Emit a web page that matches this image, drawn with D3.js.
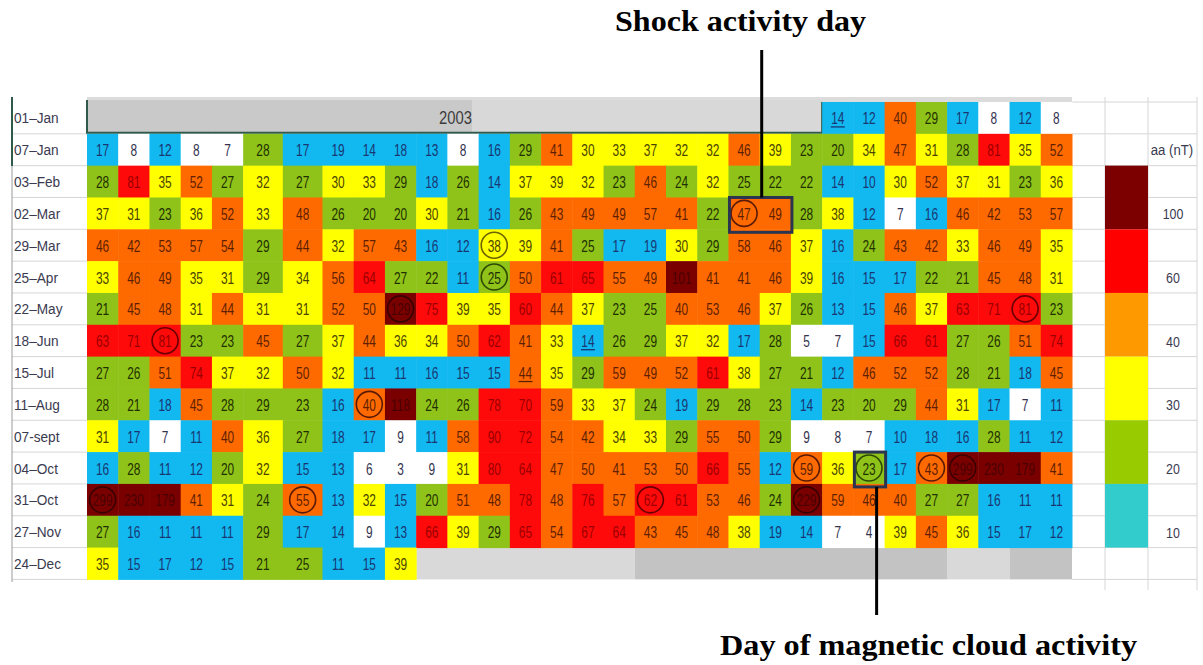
<!DOCTYPE html>
<html>
<head>
<meta charset="utf-8">
<script src="https://cdn.jsdelivr.net/npm/d3@7"></script>
<style>
  html, body { margin: 0; padding: 0; background: #fff; }
  svg { display: block; }
  .num { font-family: "Liberation Sans", Arial, sans-serif; font-size: 17px; }
  .lab { font-family: "Liberation Sans", Arial, sans-serif; font-size: 15.5px; fill: #3a3a50; }
  .note { font-family: "Liberation Serif", "Times New Roman", serif; font-weight: bold; font-size: 30px; fill: #000; }
</style>
</head>
<body>
<svg id="chart" width="1203" height="665"></svg>
<script>
// Daily aa index (nT), 2003, one Bartels-style rotation per row (27 days + 4 repeated days)
const rowLabels = ["01–Jan", "07–Jan", "03–Feb", "02–Mar", "29–Mar", "25–Apr", "22–May", "18–Jun",
                   "15–Jul", "11–Aug", "07-sept", "04–Oct", "31–Oct", "27–Nov", "24–Dec"];

// first column occupied by each rotation
const rowStartColumn = [24, 1, 1, 1, 1, 1, 1, 1, 1, 1, 1, 1, 1, 1, 1];

const rotJan01 = [14, 12, 40, 29, 17, 8, 12, 8];
const rotJan07 = [17, 8, 12, 8, 7, 28, 17, 19, 14, 18, 13, 8, 16, 29, 41, 30, 33, 37, 32, 32, 46, 39, 23, 20, 34, 47, 31, 28, 81, 35, 52];
const rotFeb03 = [28, 81, 35, 52, 27, 32, 27, 30, 33, 29, 18, 26, 14, 37, 39, 32, 23, 46, 24, 32, 25, 22, 22, 14, 10, 30, 52, 37, 31, 23, 36];
const rotMar02 = [37, 31, 23, 36, 52, 33, 48, 26, 20, 20, 30, 21, 16, 26, 43, 49, 49, 57, 41, 22, 47, 49, 28, 38, 12, 7, 16, 46, 42, 53, 57];
const rotMar29 = [46, 42, 53, 57, 54, 29, 44, 32, 57, 43, 16, 12, 38, 39, 41, 25, 17, 19, 30, 29, 58, 46, 37, 16, 24, 43, 42, 33, 46, 49, 35];
const rotApr25 = [33, 46, 49, 35, 31, 29, 34, 56, 64, 27, 22, 11, 25, 50, 61, 65, 55, 49, 101, 41, 41, 46, 39, 16, 15, 17, 22, 21, 45, 48, 31];
const rotMay22 = [21, 45, 48, 31, 44, 31, 31, 52, 50, 129, 75, 39, 35, 60, 44, 37, 23, 25, 40, 53, 46, 37, 26, 13, 15, 46, 37, 63, 71, 81, 23];
const rotJun18 = [63, 71, 81, 23, 23, 45, 27, 37, 44, 36, 34, 50, 62, 41, 33, 14, 26, 29, 37, 32, 17, 28, 5, 7, 15, 66, 61, 27, 26, 51, 74];
const rotJul15 = [27, 26, 51, 74, 37, 32, 50, 32, 11, 11, 16, 15, 15, 44, 35, 29, 59, 49, 52, 61, 38, 27, 21, 12, 46, 52, 52, 28, 21, 18, 45];
const rotAug11 = [28, 21, 18, 45, 28, 29, 23, 16, 40, 118, 24, 26, 78, 70, 59, 33, 37, 24, 19, 29, 28, 23, 14, 23, 20, 29, 44, 31, 17, 7, 11];
const rotSep07 = [31, 17, 7, 11, 40, 36, 27, 18, 17, 9, 11, 58, 90, 72, 54, 42, 34, 33, 29, 55, 50, 29, 9, 8, 7, 10, 18, 16, 28, 11, 12];
const rotOct04 = [16, 28, 11, 12, 20, 32, 15, 13, 6, 3, 9, 31, 80, 64, 47, 50, 41, 53, 50, 66, 55, 12, 59, 36, 23, 17, 43, 299, 230, 179, 41];
const rotOct31 = [299, 230, 179, 41, 31, 24, 55, 13, 32, 15, 20, 51, 48, 78, 48, 76, 57, 62, 61, 53, 46, 24, 229, 59, 46, 40, 27, 27, 16, 11, 11];
const rotNov27 = [27, 16, 11, 11, 11, 29, 17, 14, 9, 13, 66, 39, 29, 65, 54, 67, 64, 43, 45, 48, 38, 19, 14, 7, 4, 39, 45, 36, 15, 17, 12];
const rotDec24 = [35, 15, 17, 12, 15, 21, 25, 11, 15, 39];

const rotations = [rotJan01, rotJan07, rotFeb03, rotMar02, rotMar29, rotApr25, rotMay22, rotJun18,
                   rotJul15, rotAug11, rotSep07, rotOct04, rotOct31, rotNov27, rotDec24];

// colour classes (nT)
const aaThresholds = [10, 20, 30, 40, 60, 100];
const legendLabels = ["100", "60", "40", "30", "20", "10"];

// marked days: [row, column]
const circledDays = [["02–Mar", 21], ["29–Mar", 13], ["25–Apr", 13], ["22–May", 10], ["22–May", 30],
                     ["18–Jun", 3], ["11–Aug", 9], ["04–Oct", 23], ["04–Oct", 25], ["04–Oct", 27],
                     ["04–Oct", 28], ["31–Oct", 1], ["31–Oct", 7], ["31–Oct", 18], ["31–Oct", 23]];
const underlinedDays = [["01–Jan", 24], ["18–Jun", 16], ["15–Jul", 14]];
const shockDays = { row: "02–Mar", from: 21, to: 22, label: "Shock activity day" };
const cloudDays = { row: "04–Oct", from: 25, to: 25, label: "Day of magnetic cloud activity" };
const yearLabel = "2003";

// ---------- layout ----------
const svg = d3.select("#chart");
const nCols = 31;
const colWeights = d3.range(nCols).map(i => (i === 5 || i === 6) ? 1.27 : 1);
const cumW = [0, ...d3.cumsum(colWeights)];
const x = d3.scaleLinear().domain([0, d3.sum(colWeights)]).range([87, 1072]);
const colL = c => x(cumW[c - 1]);
const colR = c => x(cumW[c]);
const colC = c => (colL(c) + colR(c)) / 2;
const y = d3.scaleBand().domain(rowLabels).range([102, 579.4]);
const bh = y.bandwidth();

const cellFill = d3.scaleThreshold().domain(aaThresholds)
  .range(["#ffffff", "#12b8f0", "#8fc31a", "#ffff00", "#ff6a00", "#ff0a0a", "#7a0000"]);
const textFill = d3.scaleThreshold().domain(aaThresholds)
  .range(["#33334f", "#1a3670", "#1f3000", "#4a4400", "#5e1f00", "#9a0000", "#4a0000"]);
const ringFill = d3.scaleThreshold().domain(aaThresholds)
  .range(["#333", "#1d3f7a", "#2e4a00", "#6b6400", "#5a1a05", "#6a0000", "#3a0000"]);
const legendFill = ["#7d0000", "#ff0000", "#ff9900", "#ffff00", "#99cc00", "#33cccc"];

// condensed spreadsheet-style text: horizontal squeeze around the anchor point
function narrowText(sel, sx) {
  return sel.attr("transform", function () {
    const t = d3.select(this);
    return `translate(${t.attr("data-x")},${t.attr("data-y")}) scale(${sx},1)`;
  });
}

// flatten into cells
const cells = [];
rotations.forEach((vals, r) => {
  vals.forEach((v, i) => cells.push({ row: rowLabels[r], col: rowStartColumn[r] + i, v }));
});
const cellOf = (row, col) => cells.find(d => d.row === row && d.col === col);

// ---------- spreadsheet grid (right side and label column) ----------
const gridColor = "#d6d6d6";
const gridG = svg.append("g");
rowLabels.forEach(r => {
  gridG.append("line").attr("x1", 12).attr("x2", 87).attr("y1", y(r) + bh).attr("y2", y(r) + bh)
    .attr("stroke", gridColor);
});
[y(rowLabels[0])].concat(rowLabels.map(r => y(r) + bh)).forEach(yy => {
  gridG.append("line").attr("x1", 1072).attr("x2", 1197).attr("y1", yy).attr("y2", yy).attr("stroke", gridColor);
});
[1105, 1148, 1197].forEach(xx => {
  gridG.append("line").attr("x1", xx).attr("x2", xx).attr("y1", 97).attr("y2", 590).attr("stroke", gridColor);
});
gridG.append("line").attr("x1", 12).attr("x2", 12).attr("y1", 97).attr("y2", 582).attr("stroke", "#9a9a9a");
gridG.append("line").attr("x1", 12).attr("x2", 12).attr("y1", 97).attr("y2", 166).attr("stroke", "#2f5a4a").attr("stroke-width", 2);

// ---------- header band ----------
svg.append("rect").attr("x", 87).attr("y", 97).attr("width", 985).attr("height", 5).attr("fill", "#dcdcdc");
svg.append("rect").attr("x", 87).attr("y", 100).attr("width", 472 - 87).attr("height", y(rowLabels[1]) - 100).attr("fill", "#c9c9c9");
svg.append("rect").attr("x", 472).attr("y", 100).attr("width", colL(24) - 472).attr("height", y(rowLabels[1]) - 100).attr("fill", "#d8d8d8");
svg.append("text").attr("class", "num")
  .attr("data-x", 472).attr("data-y", y(rowLabels[0]) + bh / 2 + 6)
  .attr("text-anchor", "end").attr("fill", "#3c3c3c").style("font-size", "19px").text(yearLabel)
  .call(narrowText, 0.78);
svg.append("path")
  .attr("d", `M87,100 V${y(rowLabels[1]) - 1} H${colL(24)} V${y(rowLabels[0])}`)
  .attr("fill", "none").attr("stroke", "#2f5a4a").attr("stroke-width", 2);

// empty days after the last rotation
const lastRow = rowLabels[rowLabels.length - 1];
const emptyShades = [[11, 17, "#d9d9d9"], [18, 27, "#c3c3c3"], [28, 29, "#d9d9d9"], [30, 31, "#c3c3c3"]];
svg.append("g").selectAll("rect").data(emptyShades).join("rect")
  .attr("x", d => colL(d[0])).attr("y", y(lastRow))
  .attr("width", d => colR(d[1]) - colL(d[0])).attr("height", bh)
  .attr("fill", d => d[2]);

// ---------- cells ----------
const cellG = svg.append("g");
cellG.selectAll("rect").data(cells).join("rect")
  .attr("x", d => colL(d.col)).attr("y", d => y(d.row))
  .attr("width", d => colR(d.col) - colL(d.col) + 0.5).attr("height", bh + 0.5)
  .attr("fill", d => cellFill(d.v));
cellG.selectAll("text").data(cells).join("text")
  .attr("class", "num")
  .attr("data-x", d => colC(d.col))
  .attr("data-y", d => y(d.row) + bh / 2 + 6.5)
  .attr("text-anchor", "middle")
  .attr("fill", d => textFill(d.v))
  .text(d => d.v)
  .call(narrowText, 0.7);

// underlined values
svg.append("g").selectAll("line").data(underlinedDays.map(([r, c]) => cellOf(r, c))).join("line")
  .attr("x1", d => colC(d.col) - 7)
  .attr("x2", d => colC(d.col) + 7)
  .attr("y1", d => y(d.row) + bh / 2 + 9).attr("y2", d => y(d.row) + bh / 2 + 9)
  .attr("stroke", d => textFill(d.v)).attr("stroke-width", 1.3);

// circled values
svg.append("g").selectAll("circle").data(circledDays.map(([r, c]) => cellOf(r, c))).join("circle")
  .attr("cx", d => colC(d.col))
  .attr("cy", d => y(d.row) + bh / 2)
  .attr("r", 13)
  .attr("fill", "none")
  .attr("stroke", d => ringFill(d.v))
  .attr("stroke-width", 1.6);

// ---------- row labels ----------
svg.append("g").selectAll("text").data(rowLabels).join("text")
  .attr("class", "lab").attr("data-x", 14).attr("data-y", d => y(d) + bh / 2 + 5.5).text(d => d)
  .call(narrowText, 0.88);

// ---------- legend ----------
const legendRows = rowLabels.slice(2, 14);
const legG = svg.append("g");
legendFill.forEach((c, k) => {
  const r0 = legendRows[2 * k];
  legG.append("rect").attr("x", 1105).attr("y", y(r0)).attr("width", 43).attr("height", 2 * bh).attr("fill", c);
  legG.append("text").attr("class", "lab")
    .attr("data-x", 1173).attr("data-y", y(legendRows[2 * k + 1]) + bh / 2 + 6)
    .attr("text-anchor", "middle").attr("fill", "#333").text(legendLabels[k])
    .call(narrowText, 0.8);
});
legG.append("text").attr("class", "lab")
  .attr("data-x", 1172).attr("data-y", y(rowLabels[1]) + bh / 2 + 5.5)
  .attr("text-anchor", "middle").attr("fill", "#333").text("aa (nT)")
  .call(narrowText, 0.85);

// ---------- annotations ----------
const boxColor = "#2b3550";
function boxAround(spec) {
  const x0 = colL(spec.from) + 1, x1 = colR(spec.to) + 1;
  const y0 = y(spec.row), y1 = y(spec.row) + bh + 3;
  svg.append("rect").attr("x", x0).attr("y", y0).attr("width", x1 - x0).attr("height", y1 - y0)
    .attr("fill", "none").attr("stroke", boxColor).attr("stroke-width", 3);
  return { x0, x1, y0, y1 };
}
const sb = boxAround(shockDays);
const sx = (sb.x0 + sb.x1) / 2 + 1;
svg.append("line").attr("x1", sx).attr("x2", sx).attr("y1", 50).attr("y2", sb.y0)
  .attr("stroke", "#000").attr("stroke-width", 3);
svg.append("text").attr("class", "note").attr("x", 615).attr("y", 31)
  .attr("textLength", 251).attr("lengthAdjust", "spacingAndGlyphs").text(shockDays.label);

const cb = boxAround(cloudDays);
const cx = cb.x1 - 9;
svg.append("line").attr("x1", cx).attr("x2", cx).attr("y1", cb.y1).attr("y2", 615)
  .attr("stroke", "#000").attr("stroke-width", 3);
svg.append("text").attr("class", "note").attr("x", 720).attr("y", 655)
  .attr("textLength", 417).attr("lengthAdjust", "spacingAndGlyphs").text(cloudDays.label);
</script>
</body>
</html>
